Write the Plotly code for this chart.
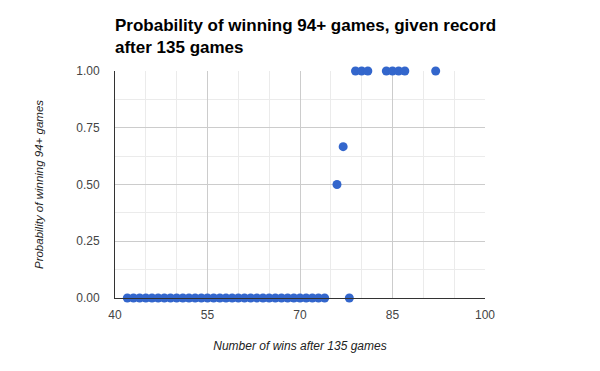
import plotly.graph_objects as go

wins = list(range(42, 75)) + [76, 77, 78, 79, 80, 81, 84, 85, 86, 87, 92]
prob = [0.0] * 33 + [0.5, 0.6667, 0.0, 1.0, 1.0, 1.0, 1.0, 1.0, 1.0, 1.0, 1.0]

x_ticks = [40, 55, 70, 85, 100]
y_ticks = [0, 0.25, 0.5, 0.75, 1.0]

# page body has an 8px default margin; compensate
OFF = 8

fig = go.Figure()
fig.add_trace(go.Scatter(
    x=wins, y=prob, mode="markers",
    marker=dict(color="#3366CC", size=9, line=dict(width=0)),
    cliponaxis=False, showlegend=False,
))

fig.update_layout(
    width=600, height=371,
    margin=dict(l=115 - OFF, r=115 + OFF, t=71 - OFF, b=73 + OFF, autoexpand=False),
    paper_bgcolor="white", plot_bgcolor="white",
    font=dict(family="Liberation Sans, Arial, sans-serif", size=12, color="#444444"),
    title=dict(
        text="<b>Probability of winning 94+ games, given record<br>after 135 games</b>",
        x=(115 - OFF) / 600, xanchor="left", xref="container",
        y=1 - 23 / 371, yanchor="top", yref="container",
        font=dict(size=17, color="#000000"),
    ),
    xaxis=dict(
        range=[40, 100], tickvals=x_ticks, ticks="",
        showgrid=True, gridcolor="#cccccc", gridwidth=1,
        minor=dict(dtick=5, tick0=40, showgrid=True, gridcolor="#ebebeb", gridwidth=1),
        showline=True, linecolor="#333333", linewidth=1,
        zeroline=False, ticklabelstandoff=6,
        title=dict(text="<i>Number of wins after 135 games</i>", standoff=20,
                   font=dict(size=12, color="#222222")),
    ),
    yaxis=dict(
        range=[0, 1], tickvals=y_ticks, tickformat=".2f", ticks="",
        showgrid=True, gridcolor="#cccccc", gridwidth=1,
        minor=dict(dtick=0.125, tick0=0, showgrid=True, gridcolor="#ebebeb", gridwidth=1),
        showline=True, linecolor="#333333", linewidth=1,
        zeroline=False, ticklabelstandoff=12,
        title=dict(text="<i>Probability of winning 94+ games</i>", standoff=30,
                   font=dict(size=11.5, color="#222222")),
    ),
)

fig.write_html("out.html")
